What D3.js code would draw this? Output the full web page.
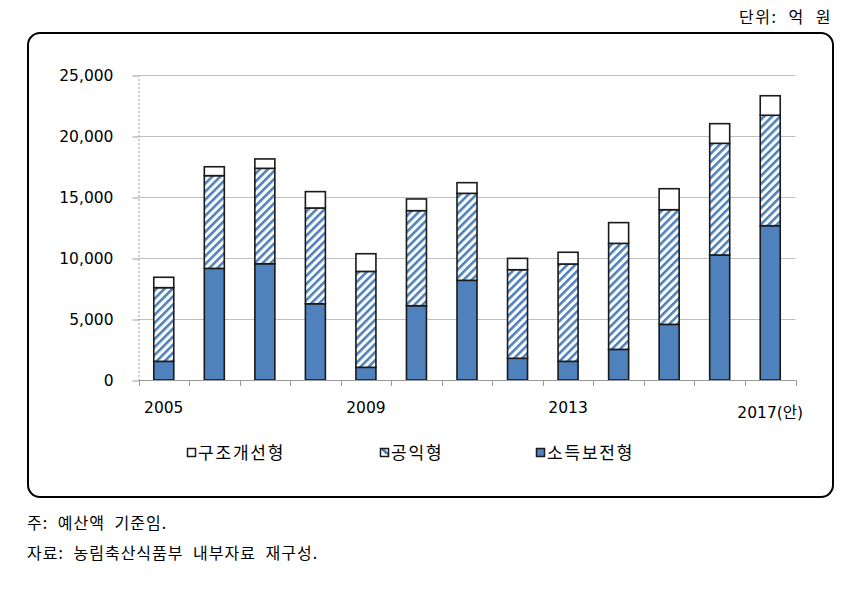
<!DOCTYPE html>
<html><head><meta charset="utf-8">
<script src="https://cdn.jsdelivr.net/npm/d3@7/dist/d3.min.js"></script>
<style>
body{margin:0;background:#fff;}
</style></head>
<body><svg id="c" width="862" height="612" font-family="Noto Sans CJK KR, Noto Sans, sans-serif"></svg>
<script>
const years = ["2005","2006","2007","2008","2009","2010","2011","2012","2013","2014","2015","2016","2017(안)"];
const xTickLabels = ["2005","2009","2013","2017(안)"];
const income = [1530,9150,9530,6250,1040,6090,8170,1780,1530,2510,4560,10250,12650]; // 소득보전형
const publicBenefit = [6040,7600,7820,7850,7860,7790,7130,7260,7980,8690,9400,9150,9050]; // 공익형
const structural = [850,730,770,1340,1450,960,875,930,960,1700,1720,1610,1600]; // 구조개선형
const yTicks = [0,5000,10000,15000,20000,25000];
const seriesNames = ["구조개선형","공익형","소득보전형"];

const svg = d3.select("#c");
const defs = svg.append("defs");
const pat = defs.append("pattern").attr("id","hatch").attr("patternUnits","userSpaceOnUse")
  .attr("width",5.7).attr("height",5.7).attr("patternTransform","rotate(45)");
pat.append("rect").attr("width",5.7).attr("height",5.7).attr("fill","#fff");
pat.append("rect").attr("width",2.6).attr("height",5.7).attr("fill","#4f81bd");

// unit
svg.append("text").attr("x",832).attr("y",23).attr("text-anchor","end")
  .attr("font-size",16).attr("letter-spacing",1.5).attr("word-spacing",6).attr("fill","#000").text("단위: 억 원");

// frame
svg.append("rect").attr("x",28).attr("y",33).attr("width",805).attr("height",464)
  .attr("rx",12).attr("ry",12).attr("fill","none").attr("stroke","#000").attr("stroke-width",2);

const x0 = 138.5, x1 = 795.5;
const x = d3.scaleBand().domain(years).range([x0,x1]).paddingInner(0.6).paddingOuter(0.3);
const y = d3.scaleLinear().domain([0,25000]).range([380,75]);

// gridlines
svg.append("g").selectAll("line").data(yTicks.slice(1)).join("line")
  .attr("x1",x0).attr("x2",x1).attr("y1",d=>y(d)+0.5).attr("y2",d=>y(d)+0.5)
  .attr("stroke","#bfbfbf").attr("stroke-width",1);

// y axis
const yAxis = svg.append("g").attr("transform",`translate(${x0},0.5)`)
  .call(d3.axisLeft(y).tickValues(yTicks).tickSize(6).tickSizeOuter(0).tickPadding(19).tickFormat(d3.format(",")));
yAxis.select(".domain").attr("stroke","#999").attr("stroke-dasharray","2,2");
yAxis.selectAll(".tick line").attr("stroke","#999");
yAxis.selectAll("text").attr("font-family","DejaVu Sans").attr("font-size",15.5).attr("fill","#000");

// bars
const stackData = years.map((yr,i)=>({yr, income:income[i], pub:publicBenefit[i], str:structural[i]}));
const stack = d3.stack().keys(["income","pub","str"])(stackData);
const fills = {income:"#4f81bd", pub:"url(#hatch)", str:"#fff"};
const bw = 20;
svg.append("g").selectAll("g").data(stack).join("g")
  .attr("fill",d=>fills[d.key])
  .selectAll("rect").data(d=>d).join("rect")
  .attr("x",d=>x(d.data.yr)+x.bandwidth()/2-bw/2)
  .attr("y",d=>y(d[1]))
  .attr("width",bw)
  .attr("height",d=>y(d[0])-y(d[1]))
  .attr("stroke","#1a1a1a").attr("stroke-width",1.6);

// x axis
const xb = d3.scaleLinear().domain([0,years.length]).range([x0,x1]);
const xa = svg.append("g");
xa.append("line").attr("x1",x0).attr("x2",x1).attr("y1",380.5).attr("y2",380.5).attr("stroke","#999");
xa.selectAll("line.t").data(d3.range(years.length+1)).join("line").attr("class","t")
  .attr("x1",d=>Math.round(xb(d))+0.5).attr("x2",d=>Math.round(xb(d))+0.5)
  .attr("y1",380).attr("y2",386).attr("stroke","#999");
xa.selectAll("text").data(xTickLabels).join("text")
  .attr("x",d=>x(d)+x.bandwidth()/2)
  .attr("y",d=> d.length>4 ? 418 : 413)
  .attr("text-anchor","middle").attr("font-size",15.5).attr("fill","#000")
  .attr("font-family","DejaVu Sans, Noto Sans CJK KR")
  .text(d=>d);

// legend
const legX = [187,380,536];
const legFill = ["#fff","url(#hatch2)","#4f81bd"];
const pat2 = defs.append("linearGradient").attr("id","hatch2").attr("x1","0").attr("y1","1").attr("x2","1").attr("y2","0");
pat2.append("stop").attr("offset","0.5").attr("stop-color","#fff");
pat2.append("stop").attr("offset","0.5").attr("stop-color","#4f81bd");
pat2.append("stop").attr("offset","0.75").attr("stop-color","#4f81bd");
pat2.append("stop").attr("offset","0.75").attr("stop-color","#fff");
const leg = svg.append("g").selectAll("g").data(seriesNames).join("g")
  .attr("transform",(d,i)=>`translate(${legX[i]},448)`);
leg.append("rect").attr("x",0.5).attr("y",0.5).attr("width",8).attr("height",8)
  .attr("fill",(d,i)=>legFill[i]).attr("stroke","#1a1a1a").attr("stroke-width",1.5);
leg.append("text").attr("x",11).attr("y",11).attr("font-size",17).attr("letter-spacing",1.8).attr("fill","#000").text(d=>d);

// footnotes
svg.append("text").attr("x",27).attr("y",529).attr("font-size",16).attr("fill","#000")
  .attr("letter-spacing",1).attr("word-spacing",5).text("주: 예산액 기준임.");
svg.append("text").attr("x",27).attr("y",559).attr("font-size",16).attr("fill","#000")
  .attr("letter-spacing",1).attr("word-spacing",5).text("자료: 농림축산식품부 내부자료 재구성.");
</script></body></html>
